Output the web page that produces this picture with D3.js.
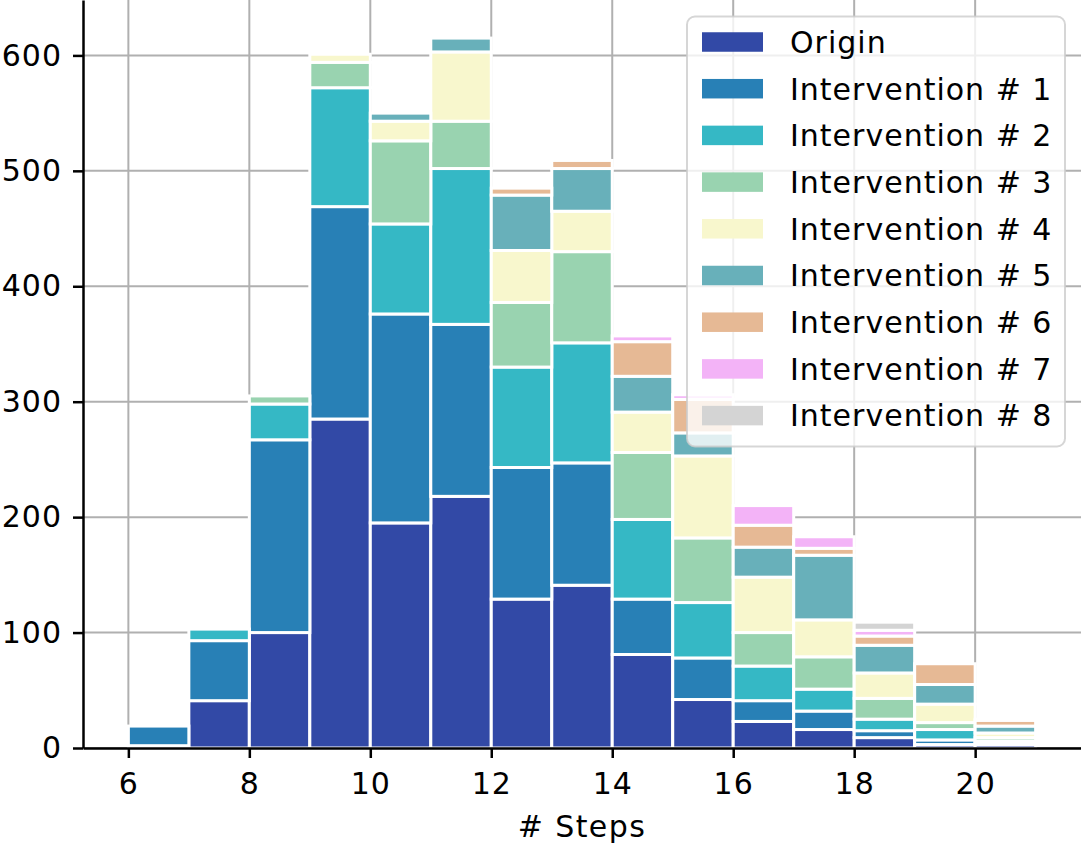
<!DOCTYPE html>
<html>
<head>
<meta charset="utf-8">
<script src="https://cdn.jsdelivr.net/npm/d3@7"></script>
<style>
  body { margin: 0; background: #fff; }
  svg { display: block; font-family: "DejaVu Sans", sans-serif; }
</style>
</head>
<body>
<div id="chart"></div>
<script>
const width = 1081;
const height = 851;

// left edge of each bin (# steps), bins are 1 wide
const bins = [6, 7, 8, 9, 10, 11, 12, 13, 14, 15, 16, 17, 18, 19, 20];

// counts per bin
const origin = [2, 41, 100, 285, 195, 218, 129, 141, 81, 42, 23, 16, 9, 3, 3];
const interv1 = [17, 52, 167, 184, 181, 149, 114, 106, 48, 36, 18, 16, 6, 4, 1];
const interv2 = [0, 10, 31, 103, 78, 135, 87, 104, 69, 48, 30, 19, 10, 9, 2];
const interv3 = [0, 0, 7, 22, 72, 41, 56, 79, 58, 56, 29, 28, 18, 6, 3];
const interv4 = [0, 0, 0, 7, 17, 60, 45, 35, 35, 71, 48, 32, 22, 16, 4];
const interv5 = [0, 0, 0, 0, 7, 12, 48, 37, 31, 20, 26, 56, 24, 17, 6];
const interv6 = [0, 0, 0, 0, 0, 0, 6, 7, 30, 29, 19, 6, 8, 18, 5];
const interv7 = [0, 0, 0, 0, 0, 0, 0, 0, 5, 4, 17, 10, 5, 0, 1];
const interv8 = [0, 0, 0, 0, 0, 0, 0, 0, 0, 0, 0, 0, 7, 0, 0];

const seriesNames = ["Origin", "Intervention # 1", "Intervention # 2", "Intervention # 3",
    "Intervention # 4", "Intervention # 5", "Intervention # 6", "Intervention # 7", "Intervention # 8"];
const seriesValues = [origin, interv1, interv2, interv3, interv4, interv5, interv6, interv7, interv8];
const seriesColors = ["#3249a6", "#2880b6", "#35b8c5", "#99d3b0", "#f8f7cd",
    "#68b0ba", "#e6b995", "#f3b3f7", "#d4d4d4"];

const xTicks = [6, 8, 10, 12, 14, 16, 18, 20];
const yTicks = [0, 100, 200, 300, 400, 500, 600];

// plot area (top and right are cut by the picture edge)
const plot = { left: 83, right: 1081, top: 0, bottom: 748 };

const svg = d3.select("#chart")
    .append("svg")
    .attr("width", width)
    .attr("height", height);

const x = d3.scaleLinear().domain([5.25, 21.75]).range([plot.left, plot.right]);
const y = d3.scaleLinear().domain([0, 648]).range([plot.bottom, plot.top]);

// table for d3.stack
const table = bins.map((b, i) => {
    const row = { bin: b };
    seriesNames.forEach((name, k) => { row[name] = seriesValues[k][i]; });
    return row;
});
const stacked = d3.stack().keys(seriesNames)(table);

// grid behind the bars
const grid = svg.append("g").attr("stroke", "#b0b0b0").attr("stroke-width", 2);
grid.selectAll("line.v")
    .data(xTicks)
    .enter()
    .append("line")
    .attr("class", "v")
    .attr("x1", d => x(d)).attr("x2", d => x(d))
    .attr("y1", plot.top).attr("y2", plot.bottom);
grid.selectAll("line.h")
    .data(yTicks)
    .enter()
    .append("line")
    .attr("class", "h")
    .attr("x1", plot.left).attr("x2", plot.right)
    .attr("y1", d => y(d)).attr("y2", d => y(d));

// stacked bars
svg.selectAll("g.layer")
    .data(stacked)
    .enter()
    .append("g")
    .attr("class", "layer")
    .attr("fill", (d, i) => seriesColors[i])
    .selectAll("rect")
    .data(d => d.filter(s => s[1] - s[0] > 0))
    .enter()
    .append("rect")
    .attr("x", d => x(d.data.bin))
    .attr("width", d => x(d.data.bin + 1) - x(d.data.bin))
    .attr("y", d => y(d[1]))
    .attr("height", d => y(d[0]) - y(d[1]))
    .attr("stroke", "#fff")
    .attr("stroke-width", 3);

// axes
const yAxis = svg.append("g")
    .attr("transform", `translate(${plot.left},0)`)
    .call(d3.axisLeft(y).tickValues(yTicks).tickSize(10).tickSizeOuter(0).tickPadding(11));
const xAxis = svg.append("g")
    .attr("transform", `translate(0,${plot.bottom})`)
    .call(d3.axisBottom(x).tickValues(xTicks).tickSize(10).tickSizeOuter(0).tickPadding(15));

[xAxis, yAxis].forEach(ax => {
    ax.select(".domain").attr("stroke", "#000").attr("stroke-width", 2.5);
    ax.selectAll(".tick line").attr("stroke", "#000").attr("stroke-width", 2.5);
    ax.selectAll(".tick text")
        .attr("font-family", "DejaVu Sans")
        .attr("font-size", 30)
        .attr("letter-spacing", 1)
        .attr("fill", "#000");
});

svg.append("text")
    .attr("x", (plot.left + plot.right) / 2)
    .attr("y", 837)
    .attr("text-anchor", "middle")
    .attr("font-size", 30)
    .attr("letter-spacing", 1.4)
    .text("# Steps");

// legend
const legend = svg.append("g");
legend.append("rect")
    .attr("x", 687).attr("y", 16.5)
    .attr("width", 378).attr("height", 430)
    .attr("rx", 8)
    .attr("fill", "#fff").attr("fill-opacity", 0.8)
    .attr("stroke", "#cccccc").attr("stroke-opacity", 0.8).attr("stroke-width", 2);

const rows = legend.selectAll("g.row")
    .data(seriesNames)
    .enter()
    .append("g")
    .attr("class", "row")
    .attr("transform", (d, i) => `translate(0,${42 + i * 46.7})`);
rows.append("rect")
    .attr("x", 702).attr("y", -9.75)
    .attr("width", 61).attr("height", 19.5)
    .attr("fill", (d, i) => seriesColors[i]);
rows.append("text")
    .attr("x", 790).attr("y", 10.8)
    .attr("font-size", 30)
    .attr("letter-spacing", 1)
    .text(d => d);
</script>
</body>
</html>
